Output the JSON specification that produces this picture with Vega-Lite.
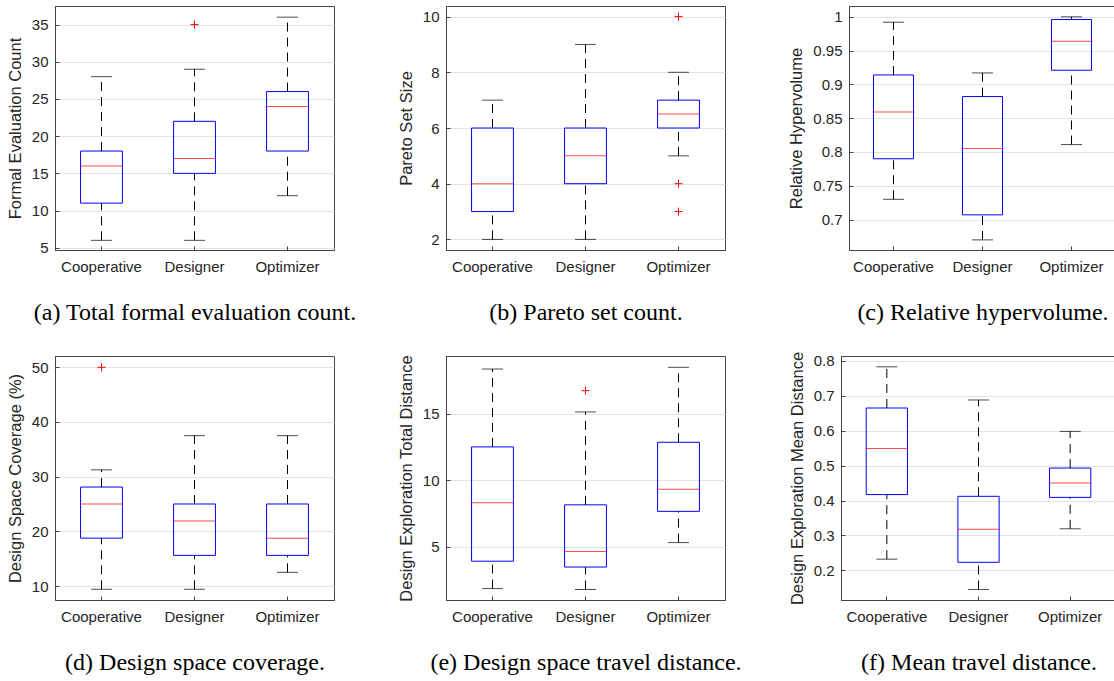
{
"$schema": "https://vega.github.io/schema/vega-lite/v6.json",
"padding": {"left": 6, "top": 5, "right": 5, "bottom": 5},
"background": "white",
"datasets": {
"box": [
{"p":"a","g":"Cooperative","lo":6,"q1":11,"med":16,"q3":18,"hi":28},
{"p":"a","g":"Designer","lo":6,"q1":15,"med":17,"q3":22,"hi":29},
{"p":"a","g":"Optimizer","lo":12,"q1":18,"med":24,"q3":26,"hi":36},
{"p":"b","g":"Cooperative","lo":2,"q1":3,"med":4,"q3":6,"hi":7},
{"p":"b","g":"Designer","lo":2,"q1":4,"med":5,"q3":6,"hi":9},
{"p":"b","g":"Optimizer","lo":5,"q1":6,"med":6.5,"q3":7,"hi":8},
{"p":"c","g":"Cooperative","lo":0.73,"q1":0.79,"med":0.859,"q3":0.914,"hi":0.992},
{"p":"c","g":"Designer","lo":0.67,"q1":0.707,"med":0.805,"q3":0.882,"hi":0.917},
{"p":"c","g":"Optimizer","lo":0.811,"q1":0.921,"med":0.964,"q3":0.996,"hi":1.0},
{"p":"d","g":"Cooperative","lo":9.4,"q1":18.75,"med":25,"q3":28.1,"hi":31.25},
{"p":"d","g":"Designer","lo":9.4,"q1":15.6,"med":21.9,"q3":25,"hi":37.5},
{"p":"d","g":"Optimizer","lo":12.5,"q1":15.6,"med":18.75,"q3":25,"hi":37.5},
{"p":"e","g":"Cooperative","lo":1.86,"q1":3.92,"med":8.31,"q3":12.52,"hi":18.38},
{"p":"e","g":"Designer","lo":1.79,"q1":3.48,"med":4.65,"q3":8.16,"hi":15.15},
{"p":"e","g":"Optimizer","lo":5.32,"q1":7.67,"med":9.33,"q3":12.87,"hi":18.51},
{"p":"f","g":"Cooperative","lo":0.232,"q1":0.417,"med":0.549,"q3":0.665,"hi":0.783},
{"p":"f","g":"Designer","lo":0.145,"q1":0.223,"med":0.318,"q3":0.412,"hi":0.688},
{"p":"f","g":"Optimizer","lo":0.319,"q1":0.409,"med":0.45,"q3":0.493,"hi":0.598}
],
"out": [
{"p":"a","g":"Designer","v":35},
{"p":"b","g":"Optimizer","v":10},
{"p":"b","g":"Optimizer","v":4},
{"p":"b","g":"Optimizer","v":3},
{"p":"d","g":"Cooperative","v":50},
{"p":"e","g":"Designer","v":16.75}
]
},
"bounds": "full",
"spacing": 25,
"vconcat": [
{"hconcat": [
  {"width": 279, "height": 244,
   "encoding": {"x": {"field":"g","type":"nominal","sort":["Cooperative","Designer","Optimizer"],"scale":{"paddingInner":0,"paddingOuter":0},"axis":{"title":"(a) Total formal evaluation count."}}},
   "layer": [
    {"data":{"name":"box"},"transform":[{"filter":"datum.p=='a'"}],"mark":{"type":"bar","fill":"transparent","stroke":"#0000ff","strokeWidth":1,"width":{"band":0.45}},
     "encoding":{"y":{"field":"q1","type":"quantitative","scale":{"domain":[4.7,37.5],"nice":false,"zero":false},"axis":{"title":"Formal Evaluation Count","values":[5,10,15,20,25,30,35],"format":"~r"}},"y2":{"field":"q3"}}},
    {"data":{"name":"box"},"transform":[{"filter":"datum.p=='a'"}],"mark":{"type":"rule","color":"#000","strokeDash":[9,6]},"encoding":{"y":{"field":"lo","type":"quantitative","scale":{"domain":[4.7,37.5],"nice":false,"zero":false},"title":"Formal Evaluation Count"},"y2":{"field":"q1"}}},
    {"data":{"name":"box"},"transform":[{"filter":"datum.p=='a'"}],"mark":{"type":"rule","color":"#000","strokeDash":[9,6]},"encoding":{"y":{"field":"q3","type":"quantitative","scale":{"domain":[4.7,37.5],"nice":false,"zero":false},"title":"Formal Evaluation Count"},"y2":{"field":"hi"}}},
    {"data":{"name":"box"},"transform":[{"filter":"datum.p=='a'"}],"mark":{"type":"tick","color":"#000","size":21,"thickness":1},"encoding":{"y":{"field":"lo","type":"quantitative","scale":{"domain":[4.7,37.5],"nice":false,"zero":false},"title":"Formal Evaluation Count"}}},
    {"data":{"name":"box"},"transform":[{"filter":"datum.p=='a'"}],"mark":{"type":"tick","color":"#000","size":21,"thickness":1},"encoding":{"y":{"field":"hi","type":"quantitative","scale":{"domain":[4.7,37.5],"nice":false,"zero":false},"title":"Formal Evaluation Count"}}},
    {"data":{"name":"box"},"transform":[{"filter":"datum.p=='a'"}],"mark":{"type":"tick","color":"#ff0000","size":42,"thickness":1},"encoding":{"y":{"field":"med","type":"quantitative","scale":{"domain":[4.7,37.5],"nice":false,"zero":false},"title":"Formal Evaluation Count"}}},
    {"data":{"name":"out"},"transform":[{"filter":"datum.p=='a'"}],"mark":{"type":"point","shape":"M-1,0L1,0M0,-1L0,1","filled":false,"stroke":"#ff0000","strokeWidth":1,"size":64,"opacity":1},"encoding":{"y":{"field":"v","type":"quantitative","scale":{"domain":[4.7,37.5],"nice":false,"zero":false},"title":"Formal Evaluation Count"}}}
   ]},
  {"width": 112, "height": 244, "data": {"values": []}, "mark": {"type": "point", "opacity": 0}, "encoding": {}, "view": {"stroke": null}},
  {"width": 279, "height": 244,
   "encoding": {"x": {"field":"g","type":"nominal","sort":["Cooperative","Designer","Optimizer"],"scale":{"paddingInner":0,"paddingOuter":0},"axis":{"title":"(b) Pareto set count."}}},
   "layer": [
    {"data":{"name":"box"},"transform":[{"filter":"datum.p=='b'"}],"mark":{"type":"bar","fill":"transparent","stroke":"#0000ff","strokeWidth":1,"width":{"band":0.45}},
     "encoding":{"y":{"field":"q1","type":"quantitative","scale":{"domain":[1.62,10.38],"nice":false,"zero":false},"axis":{"title":"Pareto Set Size","values":[2,4,6,8,10],"format":"~r"}},"y2":{"field":"q3"}}},
    {"data":{"name":"box"},"transform":[{"filter":"datum.p=='b'"}],"mark":{"type":"rule","color":"#000","strokeDash":[9,6]},"encoding":{"y":{"field":"lo","type":"quantitative","scale":{"domain":[1.62,10.38],"nice":false,"zero":false},"title":"Pareto Set Size"},"y2":{"field":"q1"}}},
    {"data":{"name":"box"},"transform":[{"filter":"datum.p=='b'"}],"mark":{"type":"rule","color":"#000","strokeDash":[9,6]},"encoding":{"y":{"field":"q3","type":"quantitative","scale":{"domain":[1.62,10.38],"nice":false,"zero":false},"title":"Pareto Set Size"},"y2":{"field":"hi"}}},
    {"data":{"name":"box"},"transform":[{"filter":"datum.p=='b'"}],"mark":{"type":"tick","color":"#000","size":21,"thickness":1},"encoding":{"y":{"field":"lo","type":"quantitative","scale":{"domain":[1.62,10.38],"nice":false,"zero":false},"title":"Pareto Set Size"}}},
    {"data":{"name":"box"},"transform":[{"filter":"datum.p=='b'"}],"mark":{"type":"tick","color":"#000","size":21,"thickness":1},"encoding":{"y":{"field":"hi","type":"quantitative","scale":{"domain":[1.62,10.38],"nice":false,"zero":false},"title":"Pareto Set Size"}}},
    {"data":{"name":"box"},"transform":[{"filter":"datum.p=='b'"}],"mark":{"type":"tick","color":"#ff0000","size":42,"thickness":1},"encoding":{"y":{"field":"med","type":"quantitative","scale":{"domain":[1.62,10.38],"nice":false,"zero":false},"title":"Pareto Set Size"}}},
    {"data":{"name":"out"},"transform":[{"filter":"datum.p=='b'"}],"mark":{"type":"point","shape":"M-1,0L1,0M0,-1L0,1","filled":false,"stroke":"#ff0000","strokeWidth":1,"size":64,"opacity":1},"encoding":{"y":{"field":"v","type":"quantitative","scale":{"domain":[1.62,10.38],"nice":false,"zero":false},"title":"Pareto Set Size"}}}
   ]},
  {"width": 124, "height": 244, "data": {"values": []}, "mark": {"type": "point", "opacity": 0}, "encoding": {}, "view": {"stroke": null}},
  {"width": 267, "height": 244,
   "encoding": {"x": {"field":"g","type":"nominal","sort":["Cooperative","Designer","Optimizer"],"scale":{"paddingInner":0,"paddingOuter":0},"axis":{"title":"(c) Relative hypervolume."}}},
   "layer": [
    {"data":{"name":"box"},"transform":[{"filter":"datum.p=='c'"}],"mark":{"type":"bar","fill":"transparent","stroke":"#0000ff","strokeWidth":1,"width":{"band":0.45}},
     "encoding":{"y":{"field":"q1","type":"quantitative","scale":{"domain":[0.655,1.016],"nice":false,"zero":false},"axis":{"title":"Relative Hypervolume","values":[0.7,0.75,0.8,0.85,0.9,0.95,1],"format":"~r"}},"y2":{"field":"q3"}}},
    {"data":{"name":"box"},"transform":[{"filter":"datum.p=='c'"}],"mark":{"type":"rule","color":"#000","strokeDash":[9,6]},"encoding":{"y":{"field":"lo","type":"quantitative","scale":{"domain":[0.655,1.016],"nice":false,"zero":false},"title":"Relative Hypervolume"},"y2":{"field":"q1"}}},
    {"data":{"name":"box"},"transform":[{"filter":"datum.p=='c'"}],"mark":{"type":"rule","color":"#000","strokeDash":[9,6]},"encoding":{"y":{"field":"q3","type":"quantitative","scale":{"domain":[0.655,1.016],"nice":false,"zero":false},"title":"Relative Hypervolume"},"y2":{"field":"hi"}}},
    {"data":{"name":"box"},"transform":[{"filter":"datum.p=='c'"}],"mark":{"type":"tick","color":"#000","size":21,"thickness":1},"encoding":{"y":{"field":"lo","type":"quantitative","scale":{"domain":[0.655,1.016],"nice":false,"zero":false},"title":"Relative Hypervolume"}}},
    {"data":{"name":"box"},"transform":[{"filter":"datum.p=='c'"}],"mark":{"type":"tick","color":"#000","size":21,"thickness":1},"encoding":{"y":{"field":"hi","type":"quantitative","scale":{"domain":[0.655,1.016],"nice":false,"zero":false},"title":"Relative Hypervolume"}}},
    {"data":{"name":"box"},"transform":[{"filter":"datum.p=='c'"}],"mark":{"type":"tick","color":"#ff0000","size":42,"thickness":1},"encoding":{"y":{"field":"med","type":"quantitative","scale":{"domain":[0.655,1.016],"nice":false,"zero":false},"title":"Relative Hypervolume"}}}
   ]}
], "spacing": 0, "bounds": "flush"},
{"hconcat": [
  {"width": 279, "height": 244,
   "encoding": {"x": {"field":"g","type":"nominal","sort":["Cooperative","Designer","Optimizer"],"scale":{"paddingInner":0,"paddingOuter":0},"axis":{"title":"(d) Design space coverage."}}},
   "layer": [
    {"data":{"name":"box"},"transform":[{"filter":"datum.p=='d'"}],"mark":{"type":"bar","fill":"transparent","stroke":"#0000ff","strokeWidth":1,"width":{"band":0.45}},
     "encoding":{"y":{"field":"q1","type":"quantitative","scale":{"domain":[7.44,52.07],"nice":false,"zero":false},"axis":{"title":"Design Space Coverage (%)","values":[10,20,30,40,50],"format":"~r"}},"y2":{"field":"q3"}}},
    {"data":{"name":"box"},"transform":[{"filter":"datum.p=='d'"}],"mark":{"type":"rule","color":"#000","strokeDash":[9,6]},"encoding":{"y":{"field":"lo","type":"quantitative","scale":{"domain":[7.44,52.07],"nice":false,"zero":false},"title":"Design Space Coverage (%)"},"y2":{"field":"q1"}}},
    {"data":{"name":"box"},"transform":[{"filter":"datum.p=='d'"}],"mark":{"type":"rule","color":"#000","strokeDash":[9,6]},"encoding":{"y":{"field":"q3","type":"quantitative","scale":{"domain":[7.44,52.07],"nice":false,"zero":false},"title":"Design Space Coverage (%)"},"y2":{"field":"hi"}}},
    {"data":{"name":"box"},"transform":[{"filter":"datum.p=='d'"}],"mark":{"type":"tick","color":"#000","size":21,"thickness":1},"encoding":{"y":{"field":"lo","type":"quantitative","scale":{"domain":[7.44,52.07],"nice":false,"zero":false},"title":"Design Space Coverage (%)"}}},
    {"data":{"name":"box"},"transform":[{"filter":"datum.p=='d'"}],"mark":{"type":"tick","color":"#000","size":21,"thickness":1},"encoding":{"y":{"field":"hi","type":"quantitative","scale":{"domain":[7.44,52.07],"nice":false,"zero":false},"title":"Design Space Coverage (%)"}}},
    {"data":{"name":"box"},"transform":[{"filter":"datum.p=='d'"}],"mark":{"type":"tick","color":"#ff0000","size":42,"thickness":1},"encoding":{"y":{"field":"med","type":"quantitative","scale":{"domain":[7.44,52.07],"nice":false,"zero":false},"title":"Design Space Coverage (%)"}}},
    {"data":{"name":"out"},"transform":[{"filter":"datum.p=='d'"}],"mark":{"type":"point","shape":"M-1,0L1,0M0,-1L0,1","filled":false,"stroke":"#ff0000","strokeWidth":1,"size":64,"opacity":1},"encoding":{"y":{"field":"v","type":"quantitative","scale":{"domain":[7.44,52.07],"nice":false,"zero":false},"title":"Design Space Coverage (%)"}}}
   ]},
  {"width": 112, "height": 244, "data": {"values": []}, "mark": {"type": "point", "opacity": 0}, "encoding": {}, "view": {"stroke": null}},
  {"width": 279, "height": 244,
   "encoding": {"x": {"field":"g","type":"nominal","sort":["Cooperative","Designer","Optimizer"],"scale":{"paddingInner":0,"paddingOuter":0},"axis":{"title":"(e) Design space travel distance."}}},
   "layer": [
    {"data":{"name":"box"},"transform":[{"filter":"datum.p=='e'"}],"mark":{"type":"bar","fill":"transparent","stroke":"#0000ff","strokeWidth":1,"width":{"band":0.45}},
     "encoding":{"y":{"field":"q1","type":"quantitative","scale":{"domain":[1.0,19.36],"nice":false,"zero":false},"axis":{"title":"Design Exploration Total Distance","values":[5,10,15],"format":"~r"}},"y2":{"field":"q3"}}},
    {"data":{"name":"box"},"transform":[{"filter":"datum.p=='e'"}],"mark":{"type":"rule","color":"#000","strokeDash":[9,6]},"encoding":{"y":{"field":"lo","type":"quantitative","scale":{"domain":[1.0,19.36],"nice":false,"zero":false},"title":"Design Exploration Total Distance"},"y2":{"field":"q1"}}},
    {"data":{"name":"box"},"transform":[{"filter":"datum.p=='e'"}],"mark":{"type":"rule","color":"#000","strokeDash":[9,6]},"encoding":{"y":{"field":"q3","type":"quantitative","scale":{"domain":[1.0,19.36],"nice":false,"zero":false},"title":"Design Exploration Total Distance"},"y2":{"field":"hi"}}},
    {"data":{"name":"box"},"transform":[{"filter":"datum.p=='e'"}],"mark":{"type":"tick","color":"#000","size":21,"thickness":1},"encoding":{"y":{"field":"lo","type":"quantitative","scale":{"domain":[1.0,19.36],"nice":false,"zero":false},"title":"Design Exploration Total Distance"}}},
    {"data":{"name":"box"},"transform":[{"filter":"datum.p=='e'"}],"mark":{"type":"tick","color":"#000","size":21,"thickness":1},"encoding":{"y":{"field":"hi","type":"quantitative","scale":{"domain":[1.0,19.36],"nice":false,"zero":false},"title":"Design Exploration Total Distance"}}},
    {"data":{"name":"box"},"transform":[{"filter":"datum.p=='e'"}],"mark":{"type":"tick","color":"#ff0000","size":42,"thickness":1},"encoding":{"y":{"field":"med","type":"quantitative","scale":{"domain":[1.0,19.36],"nice":false,"zero":false},"title":"Design Exploration Total Distance"}}},
    {"data":{"name":"out"},"transform":[{"filter":"datum.p=='e'"}],"mark":{"type":"point","shape":"M-1,0L1,0M0,-1L0,1","filled":false,"stroke":"#ff0000","strokeWidth":1,"size":64,"opacity":1},"encoding":{"y":{"field":"v","type":"quantitative","scale":{"domain":[1.0,19.36],"nice":false,"zero":false},"title":"Design Exploration Total Distance"}}}
   ]},
  {"width": 116, "height": 244, "data": {"values": []}, "mark": {"type": "point", "opacity": 0}, "encoding": {}, "view": {"stroke": null}},
  {"width": 275, "height": 244,
   "encoding": {"x": {"field":"g","type":"nominal","sort":["Cooperative","Designer","Optimizer"],"scale":{"paddingInner":0,"paddingOuter":0},"axis":{"title":"(f) Mean travel distance."}}},
   "layer": [
    {"data":{"name":"box"},"transform":[{"filter":"datum.p=='f'"}],"mark":{"type":"bar","fill":"transparent","stroke":"#0000ff","strokeWidth":1,"width":{"band":0.45}},
     "encoding":{"y":{"field":"q1","type":"quantitative","scale":{"domain":[0.115,0.814],"nice":false,"zero":false},"axis":{"title":"Design Exploration Mean Distance","values":[0.2,0.3,0.4,0.5,0.6,0.7,0.8],"format":"~r"}},"y2":{"field":"q3"}}},
    {"data":{"name":"box"},"transform":[{"filter":"datum.p=='f'"}],"mark":{"type":"rule","color":"#000","strokeDash":[9,6]},"encoding":{"y":{"field":"lo","type":"quantitative","scale":{"domain":[0.115,0.814],"nice":false,"zero":false},"title":"Design Exploration Mean Distance"},"y2":{"field":"q1"}}},
    {"data":{"name":"box"},"transform":[{"filter":"datum.p=='f'"}],"mark":{"type":"rule","color":"#000","strokeDash":[9,6]},"encoding":{"y":{"field":"q3","type":"quantitative","scale":{"domain":[0.115,0.814],"nice":false,"zero":false},"title":"Design Exploration Mean Distance"},"y2":{"field":"hi"}}},
    {"data":{"name":"box"},"transform":[{"filter":"datum.p=='f'"}],"mark":{"type":"tick","color":"#000","size":21,"thickness":1},"encoding":{"y":{"field":"lo","type":"quantitative","scale":{"domain":[0.115,0.814],"nice":false,"zero":false},"title":"Design Exploration Mean Distance"}}},
    {"data":{"name":"box"},"transform":[{"filter":"datum.p=='f'"}],"mark":{"type":"tick","color":"#000","size":21,"thickness":1},"encoding":{"y":{"field":"hi","type":"quantitative","scale":{"domain":[0.115,0.814],"nice":false,"zero":false},"title":"Design Exploration Mean Distance"}}},
    {"data":{"name":"box"},"transform":[{"filter":"datum.p=='f'"}],"mark":{"type":"tick","color":"#ff0000","size":42,"thickness":1},"encoding":{"y":{"field":"med","type":"quantitative","scale":{"domain":[0.115,0.814],"nice":false,"zero":false},"title":"Design Exploration Mean Distance"}}}
   ]}
], "spacing": 0, "bounds": "flush"}
],
"config": {
 "font": "Liberation Sans",
 "view": {"stroke": "#444", "strokeWidth": 1},
 "axis": {"labelFont": "Liberation Sans", "labelFontSize": 15, "labelColor": "#262626", "titleFont": "Liberation Sans", "titleFontSize": 16.5, "titleFontWeight": "normal", "titleColor": "#262626", "domainColor": "#444", "tickColor": "#444", "tickSize": -4, "gridColor": "#e3e3e3"},
 "axisX": {"grid": false, "labelAngle": 0, "labelPadding": 13, "titleFont": "Liberation Serif", "titleFontSize": 24, "titleColor": "#000", "titlePadding": 26},
 "axisY": {"grid": true, "labelPadding": 11, "titlePadding": 8}
}
}
